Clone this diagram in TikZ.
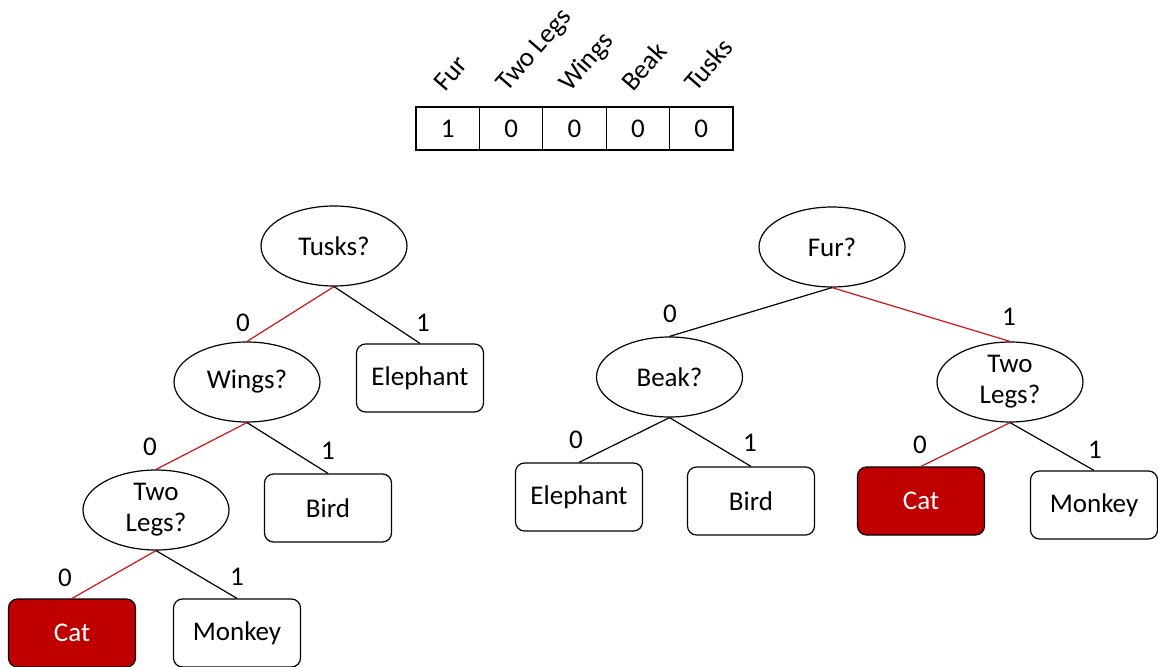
\documentclass[tikz,border=0pt]{standalone}
\usepackage{fontspec}
\setmainfont{Carlito}
\usetikzlibrary{shapes.geometric}
\definecolor{pathred}{RGB}{210,20,20}
\definecolor{catred}{RGB}{192,0,0}
\begin{document}
\begin{tikzpicture}[x=1pt,y=-1pt,
  every node/.style={font=\fontsize{27}{31}\selectfont},
  q/.style={ellipse,draw,line width=1.2pt,minimum width=146pt,minimum height=80pt,inner sep=0pt,align=center},
  leaf/.style={rectangle,rounded corners=9pt,draw,line width=1.2pt,minimum width=127pt,minimum height=68pt,inner sep=0pt},
  hit/.style={leaf,fill=catred,text=white},
  cell/.style={rectangle,draw,line width=1.2pt,minimum width=63.4pt,minimum height=43pt,inner sep=0pt},
  hdr/.style={anchor=base west,rotate=49,inner sep=0pt},
  edge/.style={line width=1.2pt},
  redge/.style={line width=1.2pt,draw=pathred},
  lbl/.style={inner sep=0pt}
]
\useasboundingbox (0,0) rectangle (1158,666);
% table
\node[cell] (c1) at (447.7,128.5) {1};
\node[cell] (c2) at (511.1,128.5) {0};
\node[cell] (c3) at (574.5,128.5) {0};
\node[cell] (c4) at (637.9,128.5) {0};
\node[cell] (c5) at (701.3,128.5) {0};
\node[hdr] (h1) at (445,93) {Fur};
\node[hdr] (h2) at (507,93) {Two Legs};
\node[hdr] (h3) at (570,93) {Wings};
\node[hdr] (h4) at (633,93) {Beak};
\node[hdr] (h5) at (696,93) {Tusks};
% left tree
\node[q] (t) at (334,246) {Tusks?};
\node[q] (w) at (247,382) {Wings?};
\node[leaf] (le) at (420,378) {Elephant};
\node[q] (l2) at (156,510) {Two\\Legs?};
\node[leaf] (lb) at (328,508) {Bird};
\node[hit] (lc) at (72,633) {Cat};
\node[leaf] (lm) at (237,633) {Monkey};
\draw[redge] (t.south) -- (w.north);
\draw[edge] (t.south) -- (le.north);
\draw[redge] (w.south) -- (l2.north);
\draw[edge] (w.south) -- (lb.north);
\draw[redge] (l2.south) -- (lc.north);
\draw[edge] (l2.south) -- (lm.north);
\node[lbl] (n1) at (243,323) {0};
\node[lbl] (n2) at (423,323) {1};
\node[lbl] (n3) at (150,447) {0};
\node[lbl] (n4) at (328,451) {1};
\node[lbl] (n5) at (65,578) {0};
\node[lbl] (n6) at (237,577) {1};
% right tree
\node[q] (f) at (832,247) {Fur?};
\node[q] (b) at (669.5,377) {Beak?};
\node[q] (r2) at (1010,382) {Two\\Legs?};
\node[leaf] (re) at (579,497) {Elephant};
\node[leaf] (rb) at (751,501) {Bird};
\node[hit] (rc) at (921,501) {Cat};
\node[leaf] (rm) at (1094,505) {Monkey};
\draw[edge] (f.south) -- (b.north);
\draw[redge] (f.south) -- (r2.north);
\draw[edge] (b.south) -- (re.north);
\draw[edge] (b.south) -- (rb.north);
\draw[redge] (r2.south) -- (rc.north);
\draw[edge] (r2.south) -- (rm.north);
\node[lbl] (m1) at (670,314) {0};
\node[lbl] (m2) at (1009,317) {1};
\node[lbl] (m3) at (576,440) {0};
\node[lbl] (m4) at (750,443) {1};
\node[lbl] (m5) at (920,445) {0};
\node[lbl] (m6) at (1095,450) {1};
\end{tikzpicture}
\end{document}
